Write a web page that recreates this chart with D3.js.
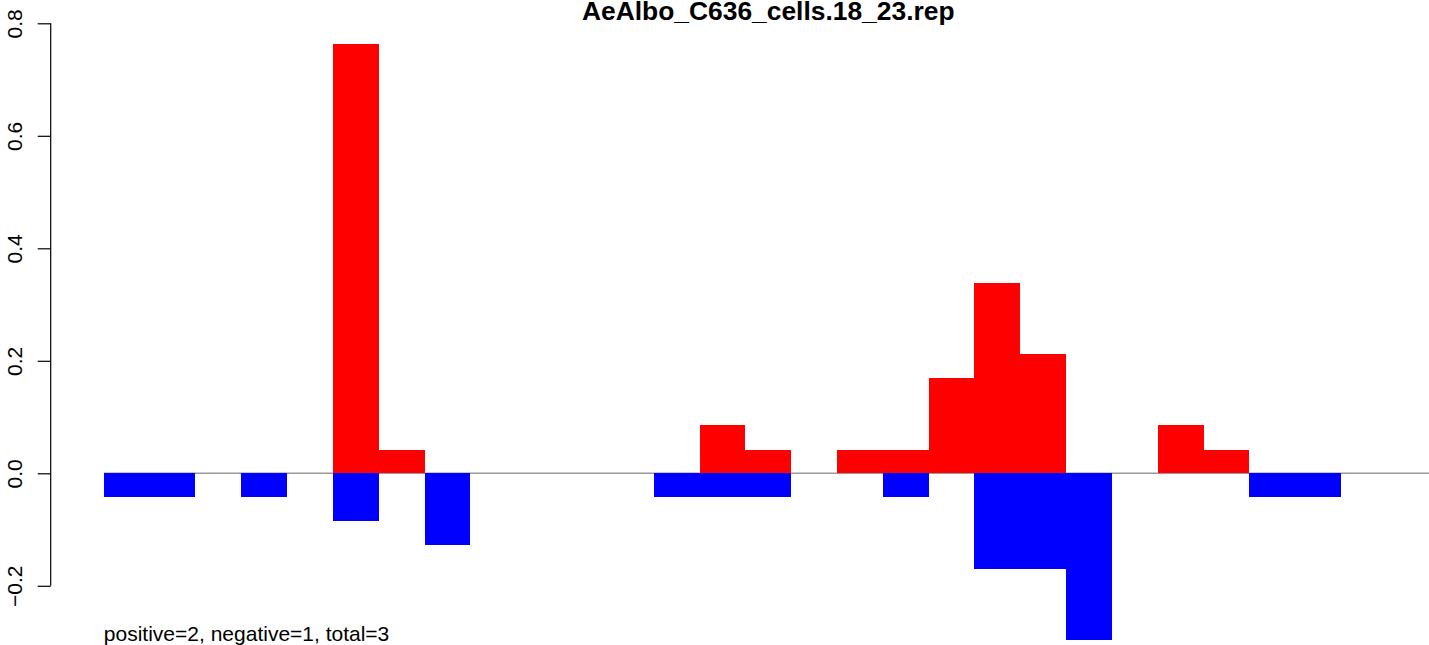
<!DOCTYPE html>
<html>
<head>
<meta charset="utf-8">
<script src="https://cdn.jsdelivr.net/npm/d3@7"></script>
<style>
  html, body { margin: 0; padding: 0; background: #fff; }
  svg { display: block; font-family: "Liberation Sans", Arial, sans-serif; }
</style>
</head>
<body>
<svg id="chart" width="1429" height="645"></svg>
<script>
// ---- data ----
const title = "AeAlbo_C636_cells.18_23.rep";
const footnote = "positive=2, negative=1, total=3";
const positions = d3.range(29);
const positiveValues = [0, 0, 0, 0, 0, 0.763, 0.042, 0, 0, 0, 0, 0, 0, 0.085, 0.042, 0, 0.042, 0.042, 0.170, 0.339, 0.212, 0, 0, 0.085, 0.042, 0, 0, 0, 0];
const negativeValues = [-0.042, -0.042, 0, -0.042, 0, -0.085, 0, -0.127, 0, 0, 0, 0, -0.042, -0.042, -0.042, 0, 0, -0.042, 0, -0.170, -0.170, -0.297, 0, 0, 0, -0.042, -0.042, 0, 0];
const yTicks = [-0.2, 0.0, 0.2, 0.4, 0.6, 0.8];

// ---- layout ----
const svg = d3.select("#chart");
const n = positions.length;
const pad = 0.04 * n;
const x = d3.scaleLinear().domain([-pad, n + pad]).range([50.7, 1485.8]);
const y = d3.scaleLinear().domain([-0.2, 0.8]).range([585.8, 23.3]);

// zero line
svg.append("line")
  .attr("x1", x(0)).attr("x2", x(n))
  .attr("y1", y(0)).attr("y2", y(0))
  .attr("stroke", "#999999").attr("stroke-width", 1.4);

// bars
svg.append("g").attr("shape-rendering", "crispEdges").selectAll("rect")
  .data(positions.filter(i => positiveValues[i] !== 0))
  .join("rect")
  .attr("x", i => x(i)).attr("width", i => x(i + 1) - x(i))
  .attr("y", i => y(positiveValues[i])).attr("height", i => y(0) - y(positiveValues[i]))
  .attr("fill", "#FF0000");

svg.append("g").attr("shape-rendering", "crispEdges").selectAll("rect")
  .data(positions.filter(i => negativeValues[i] !== 0))
  .join("rect")
  .attr("x", i => x(i)).attr("width", i => x(i + 1) - x(i))
  .attr("y", y(0)).attr("height", i => y(negativeValues[i]) - y(0))
  .attr("fill", "#0000FF");

// y axis
const axis = d3.axisLeft(y).tickValues(yTicks).tickSize(13).tickFormat(d3.format(".1f"));
const gAxis = svg.append("g").attr("transform", `translate(${x(-pad)},0)`).call(axis);
gAxis.select(".domain").attr("stroke", "none");
gAxis.append("line").attr("x1", 0).attr("x2", 0).attr("y1", y(-0.2)).attr("y2", y(0.8))
  .attr("stroke", "#000").attr("stroke-width", 1.2);
gAxis.selectAll(".tick line").attr("stroke", "#000").attr("stroke-width", 1.2);
gAxis.selectAll(".tick text")
  .attr("x", null).attr("dy", null)
  .attr("transform", "translate(-29.2,0) rotate(-90)")
  .attr("text-anchor", "middle")
  .attr("font-size", 21)
  .attr("font-family", "Liberation Sans, Arial, sans-serif")
  .attr("fill", "#000")
  .text(d => d3.format(".1f")(d).replace("-", "\u2212"));

// title
svg.append("text")
  .attr("x", (x(-pad) + x(n + pad)) / 2).attr("y", 19.5)
  .attr("text-anchor", "middle")
  .attr("font-weight", "bold").attr("font-size", 26.4)
  .text(title);

// footnote
svg.append("text")
  .attr("x", x(0)).attr("y", 641)
  .attr("font-size", 21)
  .text(footnote);
</script>
</body>
</html>
